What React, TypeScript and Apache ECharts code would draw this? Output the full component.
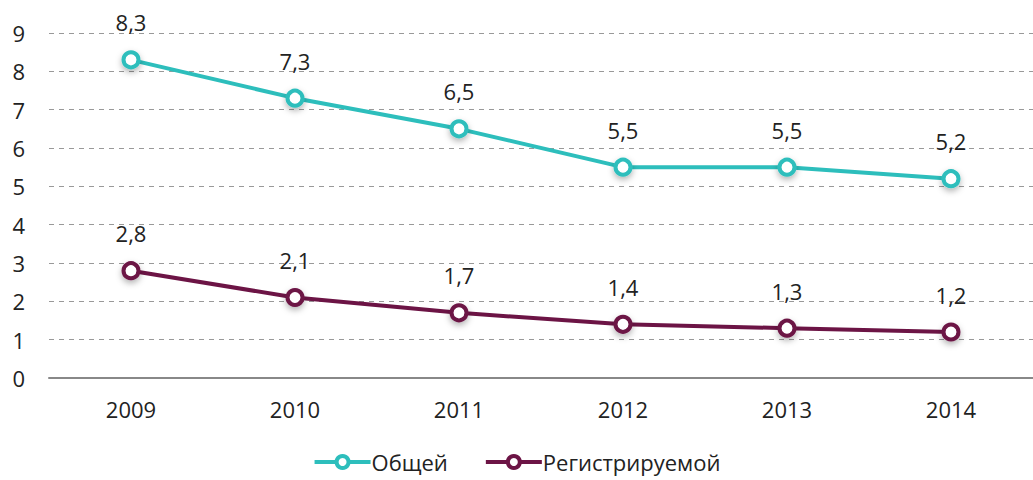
import React, { useEffect, useRef } from "react";
import * as echarts from "echarts";

const years = ["2009", "2010", "2011", "2012", "2013", "2014"];
const totalValues = [8.3, 7.3, 6.5, 5.5, 5.5, 5.2];
const registeredValues = [2.8, 2.1, 1.7, 1.4, 1.3, 1.2];
const seriesNames = ["Общей", "Регистрируемой"];
const colors = ["#2DBEBC", "#6C1445"];

const FONT = "'Open Sans', 'DejaVu Sans', sans-serif";

export default function App() {
  const ref = useRef<HTMLDivElement>(null);
  useEffect(() => {
    if (!ref.current) return;
    const chart = echarts.init(ref.current, undefined, { renderer: "svg" });
    const mk = (name: string, data: number[], color: string) => ({
      name,
      type: "line",
      data,
      color,
      symbol: "circle",
      symbolSize: 15,
      lineStyle: { width: 4, color },
      itemStyle: {
        color: "#fff",
        borderColor: color,
        borderWidth: 4,
        shadowBlur: 6,
        shadowColor: "rgba(0,0,0,0.3)",
        shadowOffsetY: 3,
      },
      label: {
        show: true,
        position: "top",
        distance: 17,
        fontSize: 22,
        fontFamily: FONT,
        color: "#222",
        formatter: (p: any) => String(p.value).replace(".", ","),
      },
    });
    chart.setOption({
      animation: false,
      grid: { left: 49, width: 986, top: 33, height: 345 },
      xAxis: {
        type: "category",
        data: years,
        boundaryGap: true,
        axisLine: { lineStyle: { color: "#888", width: 2 } },
        axisTick: { show: false },
        axisLabel: { fontSize: 22, fontFamily: FONT, color: "#222", margin: 20 },
      },
      yAxis: {
        type: "value",
        min: 0,
        max: 9,
        interval: 1,
        axisLine: { show: false },
        axisTick: { show: false },
        axisLabel: { fontSize: 22, fontFamily: FONT, color: "#222", margin: 24 },
        splitLine: { lineStyle: { type: [5, 5], color: "#999", width: 1 } },
      },
      legend: {
        bottom: 2,
        left: "center",
        itemWidth: 56,
        itemHeight: 15,
        itemGap: 36,
        lineStyle: { width: 4 },
        itemStyle: { borderWidth: 4 },
        textStyle: { fontSize: 22, fontFamily: FONT, color: "#222", padding: [0, 0, 0, -4] },
        data: seriesNames,
      },
      series: [
        mk(seriesNames[0], totalValues, colors[0]),
        mk(seriesNames[1], registeredValues, colors[1]),
      ],
    });
    return () => chart.dispose();
  }, []);
  return (
    <div
      ref={ref}
      style={{ position: "fixed", left: 0, top: 0, width: 1033, height: 480, background: "#fff" }}
    />
  );
}
